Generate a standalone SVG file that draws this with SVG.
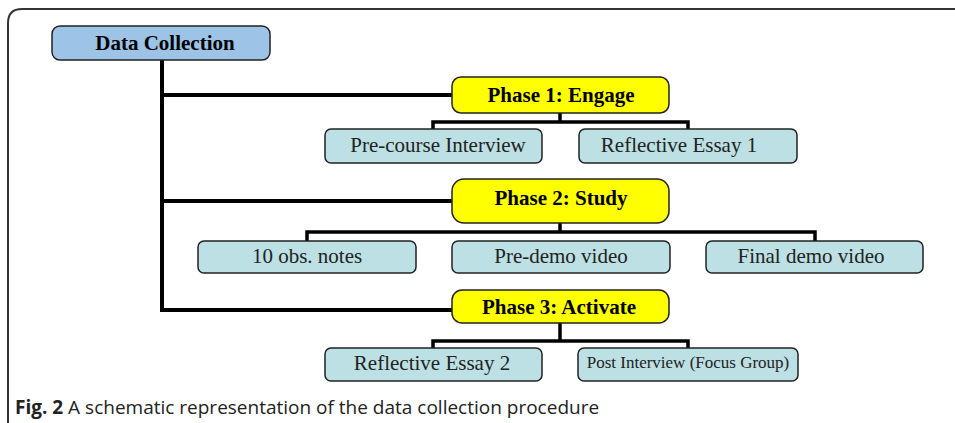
<svg xmlns="http://www.w3.org/2000/svg" width="955" height="423" viewBox="0 0 955 423">
<style>
.frame{fill:none;stroke:#333;stroke-width:2}
.root{fill:#9DC3E6;stroke:#222;stroke-width:1.5}
.phase{fill:#FFFF00;stroke:#222;stroke-width:1.5}
.leaf{fill:#BCE0E3;stroke:#222;stroke-width:1.5}
.conn{fill:none;stroke:#000;stroke-width:4;stroke-linejoin:miter}
.sub{fill:none;stroke:#000;stroke-width:3.5;stroke-linejoin:miter}
.tb{font-family:"Liberation Serif",serif;font-weight:bold;font-size:21px;fill:#000;text-anchor:middle}
.tr{font-family:"Liberation Serif",serif;font-size:21px;fill:#222;text-anchor:middle}
.cap{font-family:"Open Sans",sans-serif;font-size:19px;fill:#222}
</style>
<path class="frame" d="M8,423 L8,23 Q8,9 22,9 L955,9"/>
<g id="connectors">
<path class="conn" d="M162,60 V312"/>
<path class="conn" d="M162,95 H452"/>
<path class="conn" d="M162,201 H452"/>
<path class="conn" d="M162,310 H452"/>
<path class="sub" d="M560,113 V122 M433,129 V122 H688 V129"/>
<path class="sub" d="M560,223 V232 M307,241 V232 H815 V241"/>
<path class="sub" d="M560,323 V341 M433,348 V341 H688 V348"/>
</g>
<g id="data-collection"><rect class="root" x="52" y="26" width="218" height="34" rx="8"/><text class="tb" x="165" y="50">Data Collection</text></g>
<g id="phase1"><rect class="phase" x="452" y="77" width="217" height="36" rx="9"/><text class="tb" x="561" y="102">Phase 1: Engage</text></g>
<g id="pre-course"><rect class="leaf" x="325" y="129" width="217" height="34" rx="6"/><text class="tr" x="438" y="152">Pre-course Interview</text></g>
<g id="essay1"><rect class="leaf" x="579" y="129" width="218" height="34" rx="6"/><text class="tr" x="679" y="152">Reflective Essay 1</text></g>
<g id="phase2"><rect class="phase" x="452" y="179" width="217" height="44" rx="12"/><text class="tb" x="561" y="205">Phase 2: Study</text></g>
<g id="obs"><rect class="leaf" x="198" y="241" width="218" height="32" rx="6"/><text class="tr" x="307" y="263">10 obs. notes</text></g>
<g id="predemo"><rect class="leaf" x="452" y="241" width="218" height="32" rx="6"/><text class="tr" x="561" y="263">Pre-demo video</text></g>
<g id="finaldemo"><rect class="leaf" x="706" y="241" width="217" height="32" rx="6"/><text class="tr" x="811" y="263">Final demo video</text></g>
<g id="phase3"><rect class="phase" x="452" y="290" width="217" height="33" rx="10"/><text class="tb" x="559" y="314">Phase 3: Activate</text></g>
<g id="essay2"><rect class="leaf" x="325" y="348" width="217" height="33" rx="6"/><text class="tr" x="432" y="370">Reflective Essay 2</text></g>
<g id="post"><rect class="leaf" x="578" y="348" width="220" height="33" rx="6"/><text class="tr" x="688" y="368" style="font-size:17px">Post Interview (Focus Group)</text></g>
<text class="cap" x="15" y="414"><tspan font-weight="bold">Fig. 2</tspan> A schematic representation of the data collection procedure</text>
</svg>
